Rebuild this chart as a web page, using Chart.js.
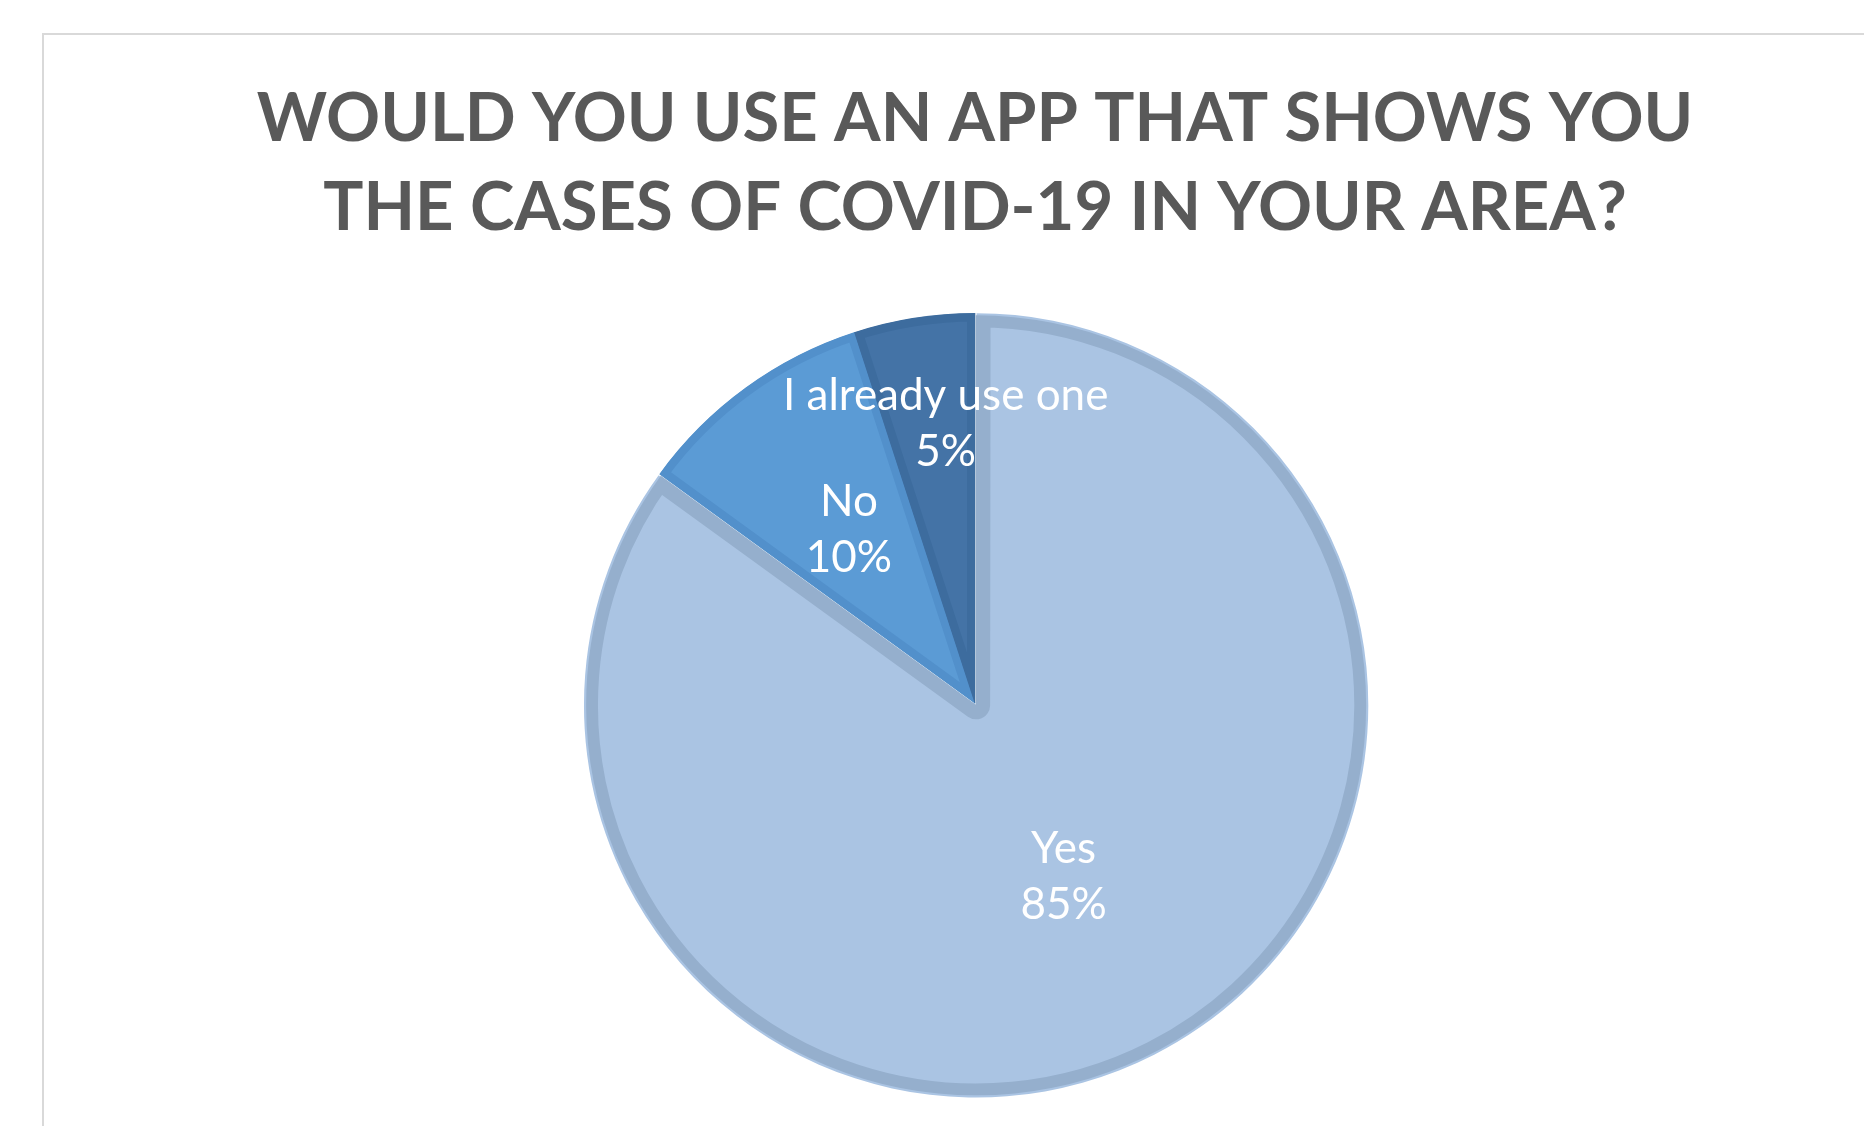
<!DOCTYPE html>
<html lang="en">
<head>
    <meta charset="UTF-8">
    <title>App Survey Pie</title>
    <script src="https://cdn.jsdelivr.net/npm/chart.js@4.4.0/dist/chart.umd.min.js"></script>
    <style>
        body { margin: 0; background: #ffffff; overflow: hidden; }
        #frame {
            position: absolute; left: 42px; top: 33px;
            width: 1900px; height: 1200px;
            border: 2px solid #d9d9d9; background: #ffffff;
        }
        #wrap { position: absolute; left: 0; top: 0; width: 1864px; height: 1200px; }
    </style>
</head>
<body>
    <div id="frame"></div>
    <div id="wrap"><canvas id="pieChart"></canvas></div>

    <script>
        // data
        const categories = ['Yes', 'No', 'I already use one'];
        const values = [85, 10, 5];
        const titleLines = ['WOULD YOU USE AN APP THAT SHOWS YOU', 'THE CASES OF COVID-19 IN YOUR AREA?'];

        // styling
        const fills = ['#aac4e3', '#5b9bd5', '#4473a6'];
        const borders = ['#95afcd', '#5290cb', '#3d6c9e'];
        const labelRadius = [0.50, 0.55, 0.72];
        const labelTurn = [0, 0, 3]; // degrees, nudges the small label toward the top

        // white two-line labels inside the slices
        const sliceLabels = {
            id: 'sliceLabels',
            afterDatasetsDraw(chart) {
                const ctx = chart.ctx;
                const meta = chart.getDatasetMeta(0);
                const total = values.reduce((a, b) => a + b, 0);
                const gap = 56;
                ctx.save();
                ctx.font = '44px Lato';
                ctx.fillStyle = '#ffffff';
                ctx.textAlign = 'center';
                ctx.textBaseline = 'middle';
                meta.data.forEach(function(arc, i) {
                    const p = arc.getProps(['x', 'y', 'startAngle', 'endAngle', 'outerRadius'], true);
                    const mid = (p.startAngle + p.endAngle) / 2 + labelTurn[i] * Math.PI / 180;
                    const r = p.outerRadius * labelRadius[i];
                    const cx = p.x + Math.cos(mid) * r;
                    const cy = p.y + Math.sin(mid) * r;
                    ctx.fillText(categories[i], cx, cy - gap / 2);
                    ctx.fillText(Math.round(values[i] / total * 100) + '%', cx, cy + gap / 2);
                });
                ctx.restore();
            }
        };

        const ctx = document.getElementById('pieChart').getContext('2d');
        const pieChart = new Chart(ctx, {
            type: 'pie',
            data: {
                labels: categories,
                datasets: [{
                    data: values,
                    backgroundColor: fills,
                    borderColor: borders,
                    borderWidth: [14, 8, 8],
                    borderAlign: 'inner',
                    offset: [10, 0, 0]
                }]
            },
            options: {
                responsive: true,
                maintainAspectRatio: false,
                animation: false,
                radius: 390,
                layout: {
                    padding: { left: 86, right: 0, top: 0, bottom: 54 }
                },
                plugins: {
                    legend: { display: false },
                    tooltip: { enabled: false },
                    title: {
                        display: true,
                        text: titleLines,
                        color: '#595959',
                        font: { family: 'Lato', size: 67, weight: 'bold', lineHeight: 1.33 },
                        padding: { top: 75, bottom: 7 }
                    }
                }
            },
            plugins: [sliceLabels]
        });
    </script>
</body>
</html>
